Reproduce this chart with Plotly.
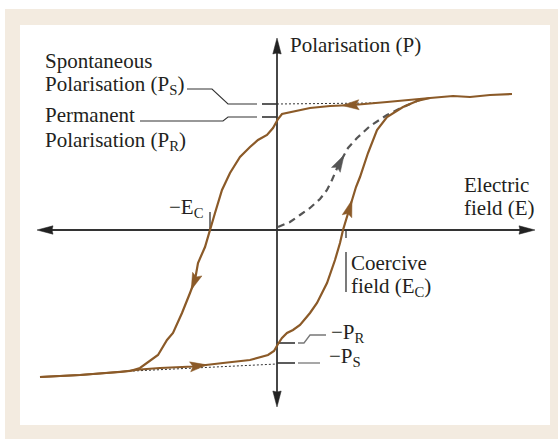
import numpy as np
import plotly.graph_objects as go

# ---------------- data (arbitrary units: E = electric field, P = polarisation) -------------
# Upper branch of the loop, traversed from positive saturation to negative saturation
upper_E = [23.5, 21.3, 19.3, 17.6, 15.3, 14.0, 11.0, 7.6, 5.3, 3.3, 2.3, 1.3, 0.5, 0.1,
           -0.4, -1.0, -1.9, -2.7, -3.7, -4.7, -5.5, -6.2, -6.7, -7.2, -7.9, -8.2, -8.7,
           -9.5, -10.4, -11.0, -11.9, -13.0, -13.7, -14.7, -19.7, -23.7]
upper_P = [13.6, 13.5, 13.3, 13.4, 13.2, 13.1, 12.8, 12.5, 12.4, 12.2, 12.0, 11.8, 11.6, 11.1,
           10.2, 9.5, 9.0, 8.3, 7.3, 5.7, 4.0, 1.7, 0.0, -1.7, -3.3, -5.0, -6.3,
           -8.3, -10.3, -11.0, -12.5, -13.3, -13.8, -14.1, -14.5, -14.7]

# Lower branch, traversed from negative saturation back up to positive saturation
lower_E = [-23.7, -19.7, -15.7, -13.7, -11.7, -8.4, -5.4, -2.7, -0.9, -0.3, 0.1, 0.5, 1.0,
           1.6, 2.3, 3.3, 4.0, 5.0, 5.8, 6.3, 6.6, 7.1, 7.5, 7.9, 8.3, 9.1, 10.0, 11.0,
           12.6, 14.0, 15.3]
lower_P = [-14.7, -14.5, -14.2, -13.95, -13.8, -13.65, -13.3, -13.0, -12.5, -12.1, -11.4,
           -10.8, -10.3, -10.0, -9.5, -8.3, -7.3, -5.3, -3.0, -1.3, 0.0, 1.7, 3.0, 4.3,
           5.3, 7.7, 10.0, 11.3, 12.3, 12.9, 13.2]

# Initial (virgin) polarisation curve, dashed
virgin_E = [0.1, 1.3, 2.3, 3.3, 4.3, 5.0, 5.5, 6.1, 6.6, 7.1, 8.0, 9.3, 11.0, 12.6, 14.0, 14.7]
virgin_P = [0.3, 0.8, 1.5, 2.2, 3.1, 4.0, 5.0, 6.4, 7.3, 8.2, 9.2, 10.4, 11.5, 12.3, 12.9, 13.15]

# Saturation extrapolation (dotted) lines
sat_top_E = [0.0, 9.8]
sat_top_P = [12.6, 12.7]
sat_bot_E = [-14.4, 0.0]
sat_bot_P = [-14.1, -13.4]

# Characteristic values
P_S = 12.6
P_R = 11.3
neg_P_R = -11.3
neg_P_S = -13.3
E_C = 6.9
neg_E_C = -6.7

# Direction arrows on the curves: (curve, coordinate used, value of that coordinate at the tip)
arrow_specs = [
    ("upper", "E", 6.5),
    ("upper", "P", -6.0),
    ("lower", "E", -7.0),
    ("lower", "P", 3.0),
    ("virgin", "P", 7.5),
]

# ---------------- styling ----------------
BROWN = "#8b5a28"
DARK = "#333333"
GREY = "#777777"
DASHGREY = "#555555"
BEIGE = "#f3ebe0"
FONT = "Liberation Serif, Times New Roman, serif"
FS = 21

W, H = 558, 439
XR = [-27.7, 28.1]
YR = [-20.9, 23.0]

curves = {
    "upper": (np.array(upper_E), np.array(upper_P)),
    "lower": (np.array(lower_E), np.array(lower_P)),
    "virgin": (np.array(virgin_E), np.array(virgin_P)),
}


def locate(curve, coord, value):
    xs, ys = curves[curve]
    c = xs if coord == "E" else ys
    for i in range(len(c) - 1):
        a, b = c[i], c[i + 1]
        if (a - value) * (b - value) <= 0 and a != b:
            t = (value - a) / (b - a)
            x = xs[i] + t * (xs[i + 1] - xs[i])
            y = ys[i] + t * (ys[i + 1] - ys[i])
            d = np.array([xs[i + 1] - xs[i], ys[i + 1] - ys[i]])
            return np.array([x, y]), d / np.linalg.norm(d)
    raise ValueError


def head(tip, d, length=1.7, half=0.5, notch=0.3):
    n = np.array([-d[1], d[0]])
    p1 = tip - length * d + half * n
    p2 = tip - (length - notch) * d
    p3 = tip - length * d - half * n
    pts = [tip, p1, p2, p3, tip]
    return [p[0] for p in pts], [p[1] for p in pts]


fig = go.Figure()


def line(xs, ys, color=DARK, width=1.2, dash=None):
    fig.add_trace(go.Scatter(x=xs, y=ys, mode="lines",
                             line=dict(color=color, width=width, dash=dash),
                             hoverinfo="skip", showlegend=False))


def poly(xs, ys, color):
    fig.add_trace(go.Scatter(x=xs, y=ys, mode="lines", fill="toself",
                             fillcolor=color, line=dict(color=color, width=0.5),
                             hoverinfo="skip", showlegend=False))


# axes (with arrowheads both ends)
AX_L, AX_R = -24.0, 25.8
AX_B, AX_T = -17.7, 19.2
line([AX_L + 1.0, AX_R - 1.0], [0, 0], DARK, 1.8)
line([0, 0], [AX_B + 1.0, AX_T - 1.0], DARK, 1.8)
for tip, d in [((AX_R, 0), (1, 0)), ((AX_L, 0), (-1, 0)),
               ((0, AX_T), (0, 1)), ((0, AX_B), (0, -1))]:
    hx, hy = head(np.array(tip, float), np.array(d, float), 1.6, 0.42, 0.1)
    poly(hx, hy, "#222222")

# dotted saturation lines
line(sat_top_E, sat_top_P, DARK, 1, "2px,2px")
line(sat_bot_E, sat_bot_P, DARK, 1, "2px,2px")

# leaders for P_S and P_R (upper left)
line([-9.0, -6.5, -4.9, -2.0], [14.1, 14.1, P_S, P_S], DARK, 1.1)
line([-1.5, 0.0], [P_S, P_S], DARK, 1.6)
line([-13.7, -5.4, -4.9, -2.0], [10.9, 10.9, P_R, P_R], DARK, 1.1)
line([-1.5, 0.0], [P_R, P_R], DARK, 1.6)

# leaders for -P_R, -P_S (lower right)
line([0.0, 1.8], [neg_P_R, neg_P_R], DARK, 1.6)
line([2.1, 2.7, 3.3, 4.9], [neg_P_R, neg_P_R, -10.5, -10.5], GREY, 1.3)
line([0.0, 1.8], [neg_P_S, neg_P_S], DARK, 1.6)
line([2.1, 4.3], [neg_P_S, neg_P_S], GREY, 1.3)

# coercive field ticks
line([E_C, E_C], [0, -0.8], DARK, 1.3)
line([E_C, E_C], [-2.2, -6.2], DARK, 1.3)
line([neg_E_C, neg_E_C], [1.8, 0], DARK, 1.3)

# curves
line(virgin_E, virgin_P, DASHGREY, 2.2, "7px,5px")
line(upper_E, upper_P, BROWN, 2.2)
line(lower_E, lower_P, BROWN, 2.2)

for curve, coord, val in arrow_specs:
    tip, d = locate(curve, coord, val)
    hx, hy = head(tip, d)
    poly(hx, hy, DASHGREY if curve == "virgin" else BROWN)

# ---------------- labels ----------------
def label(x, y_base, text, sub=False):
    # y given at the text baseline; convert to box middle
    y = y_base + 0.71 - (0.25 if sub else 0.0)
    fig.add_annotation(x=x, y=y, xref="x", yref="y", text=text, showarrow=False,
                       xanchor="left", yanchor="middle",
                       font=dict(family=FONT, size=FS, color="#231f20"))


label(-23.4, 16.2, "Spontaneous")
label(-23.4, 14.0, "Polarisation (P<sub>S</sub>)", True)
label(-23.4, 10.8, "Permanent")
label(-23.4, 8.4, "Polarisation (P<sub>R</sub>)", True)
label(1.1, 17.8, "Polarisation (P)")
label(18.5, 3.8, "Electric")
label(18.5, 1.5, "field (E)")
label(7.2, -4.0, "Coercive")
label(7.2, -6.2, "field (E<sub>C</sub>)", True)
label(-11.0, 1.7, "\u2212E<sub>C</sub>", True)
label(5.2, -10.8, "\u2212P<sub>R</sub>", True)
label(5.0, -13.2, "\u2212P<sub>S</sub>", True)

# ---------------- background panel ----------------
fig.add_shape(type="rect", xref="paper", yref="paper", x0=5 / W, x1=1, y0=0, y1=1 - 9 / H,
              fillcolor=BEIGE, line=dict(width=0), layer="below")
fig.add_shape(type="rect", xref="paper", yref="paper", x0=20 / W, x1=550 / W,
              y0=14 / H, y1=1 - 25 / H, fillcolor="white", line=dict(width=0), layer="below")

fig.update_layout(
    width=W, height=H, margin=dict(l=0, r=0, t=0, b=0),
    paper_bgcolor="white", plot_bgcolor="rgba(0,0,0,0)",
    xaxis=dict(range=XR, visible=False, fixedrange=True),
    yaxis=dict(range=YR, visible=False, fixedrange=True),
    showlegend=False, hovermode=False,
)

fig.write_html("out.html", config={"displayModeBar": False},
               post_script="document.body.style.margin='0';document.body.style.overflow='hidden';")
